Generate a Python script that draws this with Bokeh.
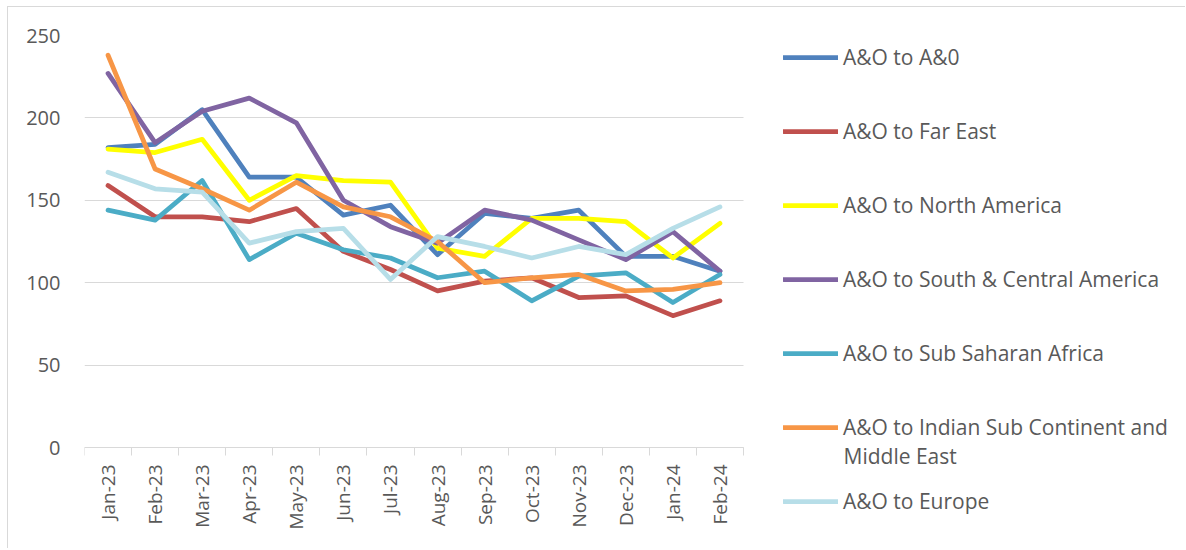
from bokeh.plotting import figure
from bokeh.models import (Range1d, FixedTicker, Legend, LegendItem, Label)
from bokeh.embed import file_html
from bokeh.resources import INLINE
import math

months = ["Jan-23", "Feb-23", "Mar-23", "Apr-23", "May-23", "Jun-23", "Jul-23",
          "Aug-23", "Sep-23", "Oct-23", "Nov-23", "Dec-23", "Jan-24", "Feb-24"]

ao_to_ao = [182, 184, 205, 164, 164, 141, 147, 117, 142, 139, 144, 116, 116, 107]
ao_to_far_east = [159, 140, 140, 137, 145, 119, 108, 95, 101, 103, 91, 92, 80, 89]
ao_to_north_america = [181, 179, 187, 150, 165, 162, 161, 121, 116, 139, 139, 137, 115, 136]
ao_to_south_central_america = [227, 185, 204, 212, 197, 150, 134, 124, 144, 138, 126, 114, 131, 107]
ao_to_sub_saharan_africa = [144, 138, 162, 114, 130, 120, 115, 103, 107, 89, 104, 106, 88, 105]
ao_to_indian_sub_me = [238, 169, 157, 144, 161, 146, 140, 125, 100, 103, 105, 95, 96, 100]
ao_to_europe = [167, 157, 155, 124, 131, 133, 102, 128, 122, 115, 122, 117, 133, 146]

series_names = ["A&O to A&0", "A&O to Far East", "A&O to North America",
                "A&O to South & Central America", "A&O to Sub Saharan Africa",
                "A&O to Indian Sub Continent and", "A&O to Europe"]
label_continuation = "Middle East"
series_values = [ao_to_ao, ao_to_far_east, ao_to_north_america,
                 ao_to_south_central_america, ao_to_sub_saharan_africa,
                 ao_to_indian_sub_me, ao_to_europe]
colors = ["#4F81BD", "#C0504D", "#FFFF00", "#8064A2", "#4BACC6", "#F79646", "#B7DEE8"]
y_ticks = [0, 50, 100, 150, 200, 250]

FONT = "Open Sans"
TXT = "#595959"
GRID = "#d9d9d9"
LEGEND_FS = "21px"

# ---- layout (pixels inside the figure canvas) ----
W, H = 1178, 542
BORDER_L, BORDER_T = 76, 28
FRAME_W = W - BORDER_L          # frame spans to the right edge (legend lives inside)
FRAME_H = H - BORDER_T
AXIS_Y_PX = 440 - BORDER_T      # y of value 0 measured from frame top
DATA_W_PX = 659                 # width of the category area

n = len(months)
y_top = y_ticks[-1]
px_per_y = AXIS_Y_PX / y_top
y_start = -(FRAME_H - AXIS_Y_PX) / px_per_y
px_per_x = DATA_W_PX / n
x_start = -0.5
x_end = x_start + FRAME_W / px_per_x

xs = list(range(n))

p = figure(width=W, height=H, output_backend="svg", toolbar_location=None,
           x_range=Range1d(x_start, x_end), y_range=Range1d(y_start, y_top),
           min_border_left=BORDER_L, min_border_top=BORDER_T, min_border_bottom=0,
           min_border_right=0)
p.outline_line_color = None
p.background_fill_color = "white"
p.border_fill_color = "white"
p.styles = {"margin-left": "7px", "margin-top": "6px",
            "border-left": "1px solid #d9d9d9", "border-top": "1px solid #d9d9d9"}

# grid
p.xgrid.grid_line_color = None
p.ygrid.grid_line_color = GRID
p.ygrid.grid_line_width = 1
p.ygrid.ticker = FixedTicker(ticks=y_ticks)
try:
    p.ygrid.cross_bounds = (-0.5, n - 0.5)
except Exception:
    p.ygrid.grid_line_color = None
    p.segment(x0=[-0.5] * len(y_ticks), x1=[n - 0.5] * len(y_ticks),
              y0=y_ticks, y1=y_ticks, line_color=GRID, line_width=1, level="underlay")

# y axis
p.yaxis.ticker = FixedTicker(ticks=y_ticks)
p.yaxis.axis_line_color = None
p.yaxis.major_tick_line_color = None
p.yaxis.minor_tick_line_color = None
p.yaxis.major_tick_in = 0
p.yaxis.major_tick_out = 0
p.yaxis.major_label_standoff = 24
p.yaxis.major_label_text_font = FONT
p.yaxis.major_label_text_font_size = "20px"
p.yaxis.major_label_text_color = TXT

# x axis (placed at value 0)
p.xaxis.fixed_location = 0
p.xaxis.bounds = (-0.5, n - 0.5)
p.xaxis.ticker = FixedTicker(ticks=xs, minor_ticks=[i - 0.5 for i in range(n + 1)])
p.xaxis.major_label_overrides = {i: m for i, m in enumerate(months)}
p.xaxis.axis_line_color = GRID
p.xaxis.axis_line_width = 1
p.xaxis.major_tick_line_color = None
p.xaxis.major_tick_in = 0
p.xaxis.major_tick_out = 0
p.xaxis.minor_tick_line_color = GRID
p.xaxis.minor_tick_in = 0
p.xaxis.minor_tick_out = 8
p.xaxis.major_label_orientation = math.pi / 2
p.xaxis.major_label_standoff = 9
p.xaxis.major_label_text_font = FONT
p.xaxis.major_label_text_font_size = "19px"
p.xaxis.major_label_text_color = TXT

items = []
for name, vals, col in zip(series_names, series_values, colors):
    r = p.line(xs, vals, line_color=col, line_width=4.75,
               line_join="round", line_cap="round")
    items.append(LegendItem(label=name, renderers=[r]))

# legend: glyphs start 40px right of the category area, first row centred 22px below frame top
ITEM_H, SPACING = 44, 30
legend_h = len(items) * ITEM_H + (len(items) - 1) * SPACING
legend = Legend(items=items, location=(DATA_W_PX + 40, FRAME_H - legend_h),
                orientation="vertical",
                glyph_width=55, glyph_height=ITEM_H, label_height=ITEM_H, spacing=SPACING,
                label_standoff=5, padding=0, margin=0,
                label_text_font=FONT, label_text_font_size=LEGEND_FS,
                label_text_color=TXT, border_line_color=None,
                background_fill_alpha=0)
p.add_layout(legend)

# second line of the wrapped legend label
row6_center_px = 5 * (ITEM_H + SPACING) + ITEM_H / 2 + 28   # from frame top
extra = Label(x=x_start + (DATA_W_PX + 40 + 55 + 5) / px_per_x,
              y=y_top - row6_center_px / px_per_y,
              text=label_continuation,
              text_font=FONT, text_font_size=LEGEND_FS, text_color=TXT,
              text_baseline="middle", text_align="left")
p.add_layout(extra)

open("out.html", "w").write(file_html(p, INLINE))
